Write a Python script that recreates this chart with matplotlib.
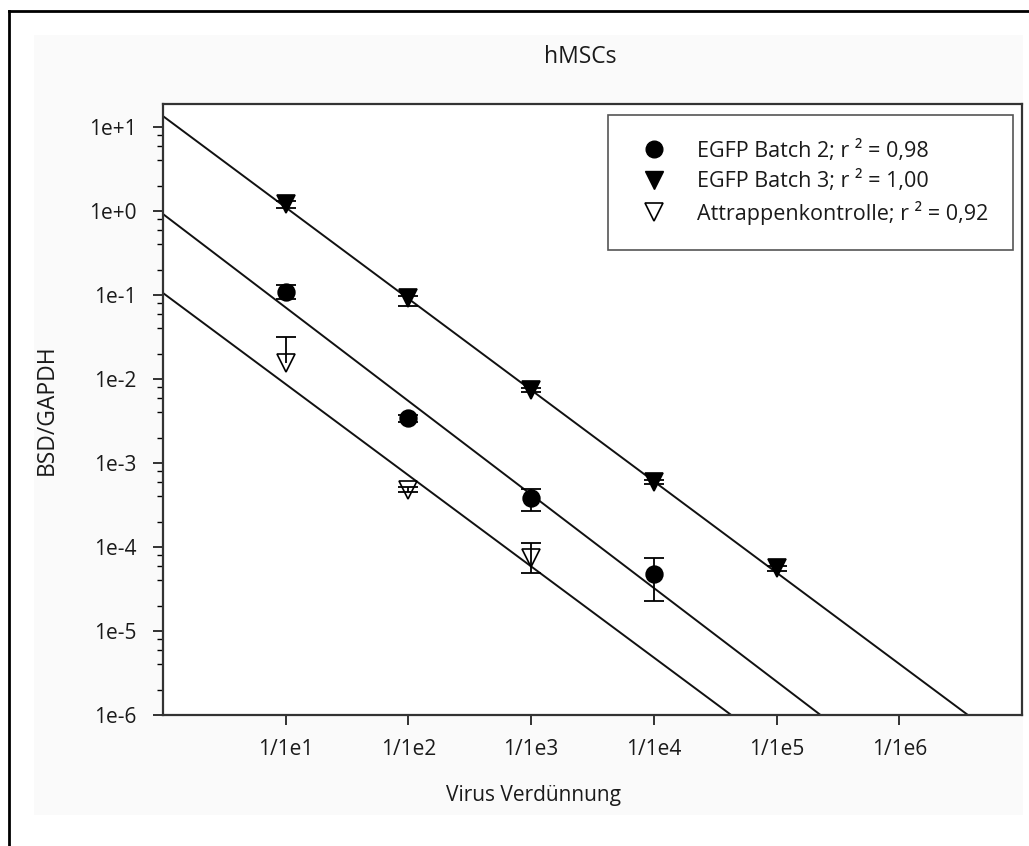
import numpy as np
import matplotlib
matplotlib.use("Agg")
from matplotlib import pyplot as plt
from matplotlib.lines import Line2D
from matplotlib.patches import Rectangle
from matplotlib.ticker import FixedLocator, NullFormatter, NullLocator

# Virus dilutions (1/1e1 ... 1/1e6)
dilution_ticks = [1e-1, 1e-2, 1e-3, 1e-4, 1e-5, 1e-6]
dilution_labels = ["1/1e1", "1/1e2", "1/1e3", "1/1e4", "1/1e5", "1/1e6"]

# EGFP Batch 2
b2_x = [1e-1, 1e-2, 1e-3, 1e-4]
b2_y = [0.109, 3.4e-3, 3.8e-4, 4.8e-5]
b2_lo = [0.090, 3.1e-3, 2.7e-4, 2.3e-5]
b2_hi = [0.130, 3.7e-3, 4.9e-4, 7.4e-5]

# EGFP Batch 3
b3_x = [1e-1, 1e-2, 1e-3, 1e-4, 1e-5]
b3_y = [1.20, 0.092, 7.4e-3, 5.9e-4, 5.6e-5]
b3_lo = [1.10, 0.075, 7.0e-3, 5.6e-4, 5.2e-5]
b3_hi = [1.30, 0.097, 7.8e-3, 6.3e-4, 5.9e-5]

# Attrappenkontrolle
ctl_x = [1e-1, 1e-2, 1e-3]
ctl_y = [0.0155, 4.8e-4, 7.4e-5]
ctl_lo = [0.0155, 4.5e-4, 4.9e-5]
ctl_hi = [0.0320, 5.2e-4, 1.12e-4]

# regression lines: log10(y) = a + b * log10(1/x)
fit_a = [-0.036, 1.13, -0.976]
fit_b = [-1.113, -1.087, -1.085]

labels = ["EGFP Batch 2; r \u00b2 = 0,98",
          "EGFP Batch 3; r \u00b2 = 1,00",
          "Attrappenkontrolle; r \u00b2 = 0,92"]

plt.rcParams['font.family'] = ['Open Sans', 'DejaVu Sans']
plt.rcParams['font.size'] = 15
plt.rcParams['text.color'] = '#1a1a1a'

fig = plt.figure(figsize=(10.29, 8.46), dpi=100)
W, H = 1029, 846

# light panel + outer frame (right/bottom cut off in the original)
fig.add_artist(Rectangle((34 / W, 1 - 815 / H), (1023 - 34) / W, (815 - 35) / H,
                         transform=fig.transFigure, facecolor="#fafafa", edgecolor="none", zorder=0))
fig.add_artist(Line2D([9 / W, 9 / W], [0, 1 - 11 / H], transform=fig.transFigure, color="black", lw=2))
fig.add_artist(Line2D([9 / W, 1], [1 - 11 / H, 1 - 11 / H], transform=fig.transFigure, color="black", lw=2))

ax = fig.add_axes([163 / W, 1 - 715 / H, (1022 - 163) / W, (715 - 104) / H])
ax.set_facecolor("white")

ax.set_xscale("log")
ax.set_yscale("log")
ax.set_xlim(1, 1e-7)
ax.set_ylim(1e-6, 18.8)

# fitted lines
xs = np.array([1.0, 1e-7])
for a, b in zip(fit_a, fit_b):
    ax.plot(xs, 10 ** (a + b * (-np.log10(xs))), color="#111111", lw=1.4, zorder=2)

def draw(x, y, lo, hi, marker, face, ms):
    x, y, lo, hi = map(np.array, (x, y, lo, hi))
    ax.vlines(x, lo, hi, color="black", lw=1.3, zorder=3)
    ax.plot(x, hi, ls="none", marker="_", ms=15, mew=1.3, color="black", zorder=3)
    keep = lo < y
    ax.plot(x[keep], lo[keep], ls="none", marker="_", ms=15, mew=1.3, color="black", zorder=3)
    ax.plot(x, y, ls="none", marker=marker, ms=ms, mfc=face, mec="black", mew=1.2, zorder=4)

draw(b2_x, b2_y, b2_lo, b2_hi, "o", "black", 12)
draw(b3_x, b3_y, b3_lo, b3_hi, "v", "black", 12.5)
draw(ctl_x, ctl_y, ctl_lo, ctl_hi, "v", "none", 12.5)

# ticks
ax.xaxis.set_major_locator(FixedLocator(dilution_ticks))
ax.set_xticklabels(dilution_labels)
ax.xaxis.set_minor_locator(NullLocator())
yt = [10.0 ** k for k in range(-6, 2)]
ax.yaxis.set_major_locator(FixedLocator(yt))
ax.set_yticklabels(["1e-6", "1e-5", "1e-4", "1e-3", "1e-2", "1e-1", "1e+0", "1e+1"])
ax.yaxis.set_minor_locator(FixedLocator([m * 10.0 ** k for k in range(-6, 2) for m in (2, 4, 6, 8)]))
ax.yaxis.set_minor_formatter(NullFormatter())
ax.tick_params(which="major", length=7, width=1.3, pad=10, colors="#222222", labelcolor="#1a1a1a")
ax.tick_params(axis="y", which="major", pad=12)
ax.tick_params(which="minor", length=4, width=1.0)
for s in ax.spines.values():
    s.set_linewidth(1.6)
    s.set_color("#333333")

# texts
fig.text(580 / W, 1 - 57 / H, "hMSCs", ha="center", va="center", fontsize=16.5)
fig.text(533 / W, 1 - 795 / H, "Virus Verdünnung", ha="center", va="center")
fig.text(47 / W, 1 - 410 / H, "BSD/GAPDH", ha="center", va="center", rotation=90, fontsize=16.5)

handles = [Line2D([], [], ls="none", marker="o", ms=12, mfc="black", mec="black"),
           Line2D([], [], ls="none", marker="v", ms=12.5, mfc="black", mec="black"),
           Line2D([], [], ls="none", marker="v", ms=12.5, mfc="none", mec="black", mew=1.2)]
leg = ax.legend(handles, labels, loc="upper right", bbox_to_anchor=(1013 / W, 1 - 115 / H),
                bbox_transform=fig.transFigure, fancybox=False, framealpha=1, edgecolor="#555555",
                borderpad=1.15, handlelength=2.0, handletextpad=1.0, labelspacing=0.4,
                borderaxespad=0, prop={"size": 15.5})
leg.get_frame().set_linewidth(1.2)

fig.savefig("out.png", dpi=100)
